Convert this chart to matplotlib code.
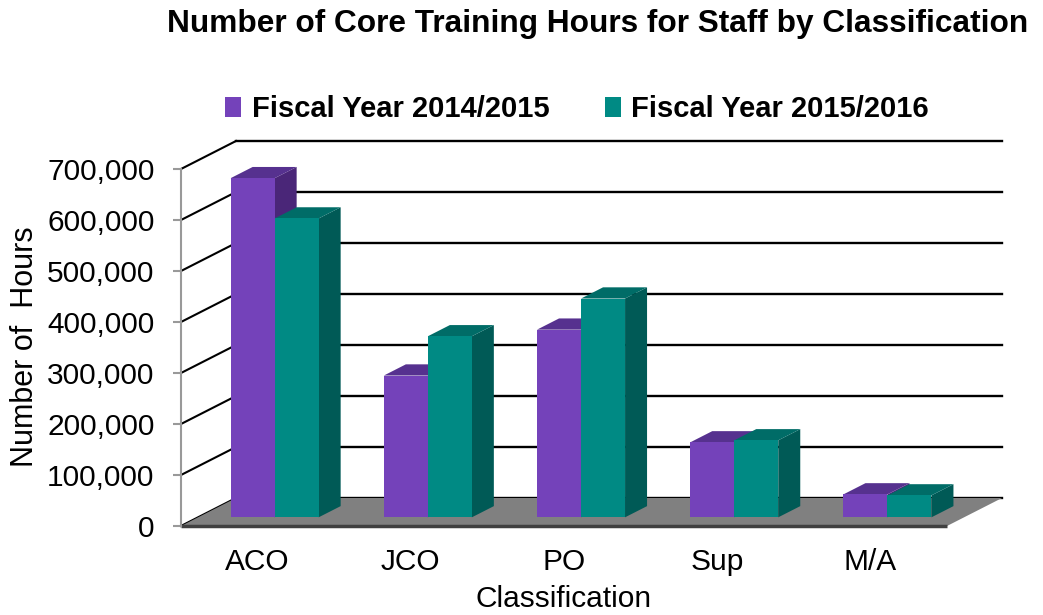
import matplotlib
matplotlib.use("Agg")
import matplotlib.pyplot as plt
from matplotlib.patches import Polygon, Patch
from matplotlib.ticker import FuncFormatter

# values
categories = ["ACO", "JCO", "PO", "Sup", "M/A"]
fy_2014_15 = [665000, 278000, 368000, 147000, 45000]
fy_2015_16 = [586000, 355000, 429000, 151000, 43000]
series_names = ["Fiscal Year 2014/2015", "Fiscal Year 2015/2016"]
yticks = [0, 100000, 200000, 300000, 400000, 500000, 600000, 700000]

# face colours: front, top, side
purple = ("#7442BA", "#56318F", "#4A2678")
teal = ("#008A84", "#006C67", "#005A56")

plt.rcParams["font.family"] = ["Liberation Sans", "DejaVu Sans"]

W, H = 1043, 615
fig = plt.figure(figsize=(W / 100, H / 100), dpi=100)

# pixel layout of the pseudo-3D box
left_px, floor_px = 181, 526
front_w_px, depth_x_px, depth_y_px = 766, 55, 28
ymax = 700000
px_per_val = 357 / ymax
n = len(categories)
DX = depth_x_px / (front_w_px / n)        # depth offset in category units
DY = depth_y_px / px_per_val              # depth offset in value units
top_px = floor_px - 357 - depth_y_px

ax = fig.add_axes([left_px / W, 1 - floor_px / H,
                   (front_w_px + depth_x_px) / W, (floor_px - top_px) / H])
ax.set_xlim(-0.5, n - 0.5 + DX)
ax.set_ylim(0, ymax + DY)

# back wall gridlines and left wall diagonals
for v in yticks:
    ax.plot([-0.5 + DX, n - 0.5 + DX], [v + DY, v + DY], color="black", lw=1.7,
            clip_on=False, zorder=1)
    ax.plot([-0.5, -0.5 + DX], [v, v + DY], color="black", lw=1.5,
            clip_on=False, zorder=1)

# floor
floor = Polygon([(-0.5, 0), (n - 0.5, 0), (n - 0.5 + DX, DY), (-0.5 + DX, DY)],
                closed=True, facecolor="#808080", edgecolor="none", zorder=2)
ax.add_patch(floor)
ax.plot([-0.5, n - 0.5], [0, 0], color="#404040", lw=2.5, zorder=3,
        solid_capstyle="butt", clip_on=False)

# bars: front face offset into the box, with a top and a right side face
d0, dd = 0.31, 0.40
bw = 44 / (front_w_px / n)
z = 4
for i, cat in enumerate(categories):
    for j, (vals, cols) in enumerate([(fy_2014_15, purple), (fy_2015_16, teal)]):
        v = vals[i]
        x0 = i + d0 * DX + (j - 1) * bw
        y0 = d0 * DY
        x1 = x0 + bw
        ox, oy = dd * DX, dd * DY
        side = Polygon([(x1, y0), (x1 + ox, y0 + oy), (x1 + ox, y0 + v + oy), (x1, y0 + v)],
                       closed=True, facecolor=cols[2], edgecolor="none", zorder=z)
        top = Polygon([(x0, y0 + v), (x1, y0 + v), (x1 + ox, y0 + v + oy), (x0 + ox, y0 + v + oy)],
                      closed=True, facecolor=cols[1], edgecolor="none", zorder=z)
        ax.add_patch(side)
        ax.add_patch(top)
        ax.bar(x0, v, width=bw, bottom=y0, align="edge", color=cols[0],
               edgecolor="none", zorder=z + 0.5)
        z += 1

# axes styling
for s in ["top", "right", "bottom"]:
    ax.spines[s].set_visible(False)
ax.spines["left"].set_bounds(0, ymax)
ax.spines["left"].set_color("#999999")
ax.spines["left"].set_linewidth(1.5)
ax.spines["left"].set_zorder(10)

ax.set_yticks(yticks)
ax.yaxis.set_major_formatter(FuncFormatter(lambda v, p: f"{int(v):,}"))
ax.tick_params(axis="y", length=6, width=1.5, color="#999999", pad=13, labelsize=21.5)
ax.set_xticks(range(n))
ax.set_xticklabels(categories)
ax.tick_params(axis="x", length=0, pad=16, labelsize=21.5)

ax.set_xlabel("Classification", fontsize=21.5)
ax.xaxis.set_label_coords((front_w_px / 2) / (front_w_px + depth_x_px), -0.152)
ax.set_ylabel("Number of  Hours", fontsize=22)
ax.yaxis.set_label_coords(-0.172, 0.465)

fig.text(598 / W, 1 - 24 / H, "Number of Core Training Hours for Staff by Classification",
         ha="center", va="center", fontsize=22.8, fontweight="bold")

handles = [Patch(facecolor=purple[0]), Patch(facecolor=teal[0])]
fig.legend(handles, series_names, loc="center", bbox_to_anchor=(577 / W, 1 - 109 / H),
           ncol=2, frameon=False, handlelength=0.55, handleheight=0.7, handletextpad=0.35,
           columnspacing=1.9, prop={"weight": "bold", "size": 21})

fig.savefig("out.png", dpi=100)
